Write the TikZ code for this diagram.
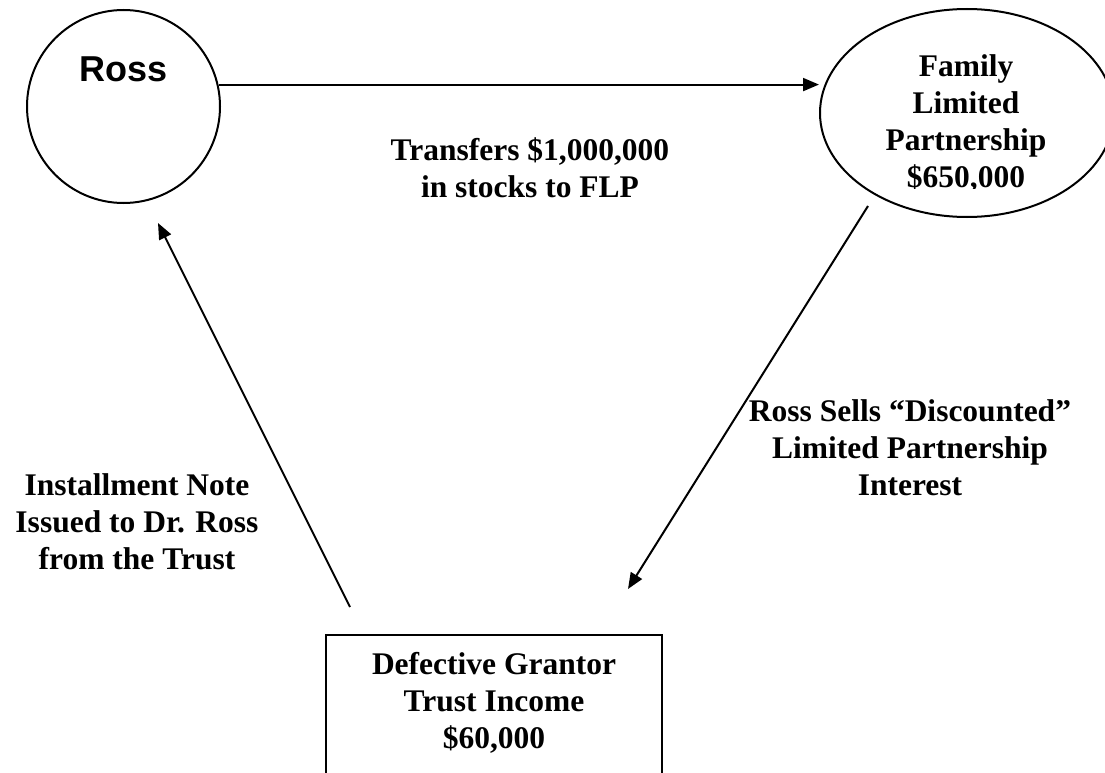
\documentclass[tikz,border=0pt]{standalone}
\usepackage{fontspec}
\setmainfont{Liberation Serif}
\newfontfamily\namefont{Liberation Sans}
\usetikzlibrary{arrows.meta}
\usetikzlibrary{shapes}
\usetikzlibrary{positioning}

\begin{document}
\begin{tikzpicture}[x=1pt,y=-1pt,line width=2pt,->,>={Triangle[length=16pt,width=13pt]}]
\tikzstyle{party}=[circle,draw=black,-,
  minimum size=193pt,inner sep=0pt
]

\tikzstyle{entity}=[ellipse,draw=black,-,
  minimum width=294pt,minimum height=208pt,inner sep=0pt
]

\tikzstyle{trustbox}=[rectangle,draw=black,-,
  minimum width=336pt,minimum height=200pt
]

\tikzstyle{caption}=[align=center,text=black,
  font=\fontsize{31.5}{37}\selectfont\bfseries
]

\useasboundingbox (0,0) rectangle (1105,773);

\node[party]    (ross)  at (123.5,106.5) {};
\node[font=\namefont\fontsize{36}{40}\selectfont\bfseries] (rossname) at (123.5,69) {Ross};
\node[entity]   (flp)   at (967,113)     {};
\begin{scope}
  \clip (800,0) rectangle (1105,188);
  \node[caption] (flpname) at (966,124) {Family\\Limited\\Partnership\\\$650,000};
\end{scope}
\node[trustbox,anchor=north] (trust) at (494,634) {};
\node[caption] (trustname) at (494,703) {Defective Grantor\\Trust Income\\\$60,000};

% free ends of the slanted arrows
\coordinate (sellfrom) at (868,206);
\coordinate (sellto)   at (628,589);
\coordinate (notefrom) at (350,607);
\coordinate (noteto)   at (158,223);

\draw (ross.13.5) -- (ross.13.5 -| flp.west);
\draw (sellfrom) -- (sellto);
\draw (notefrom) -- (noteto);

\node[caption] (transfer)    at (530,168) {Transfers \$1,000,000\\in stocks to FLP};
\node[caption] (sells)       at (910,448) {Ross Sells ``Discounted''\\Limited Partnership\\Interest};
\node[caption] (installment) at (137,522) {Installment Note\\Issued to Dr. Ross\\from the Trust};
\end{tikzpicture}
\end{document}
